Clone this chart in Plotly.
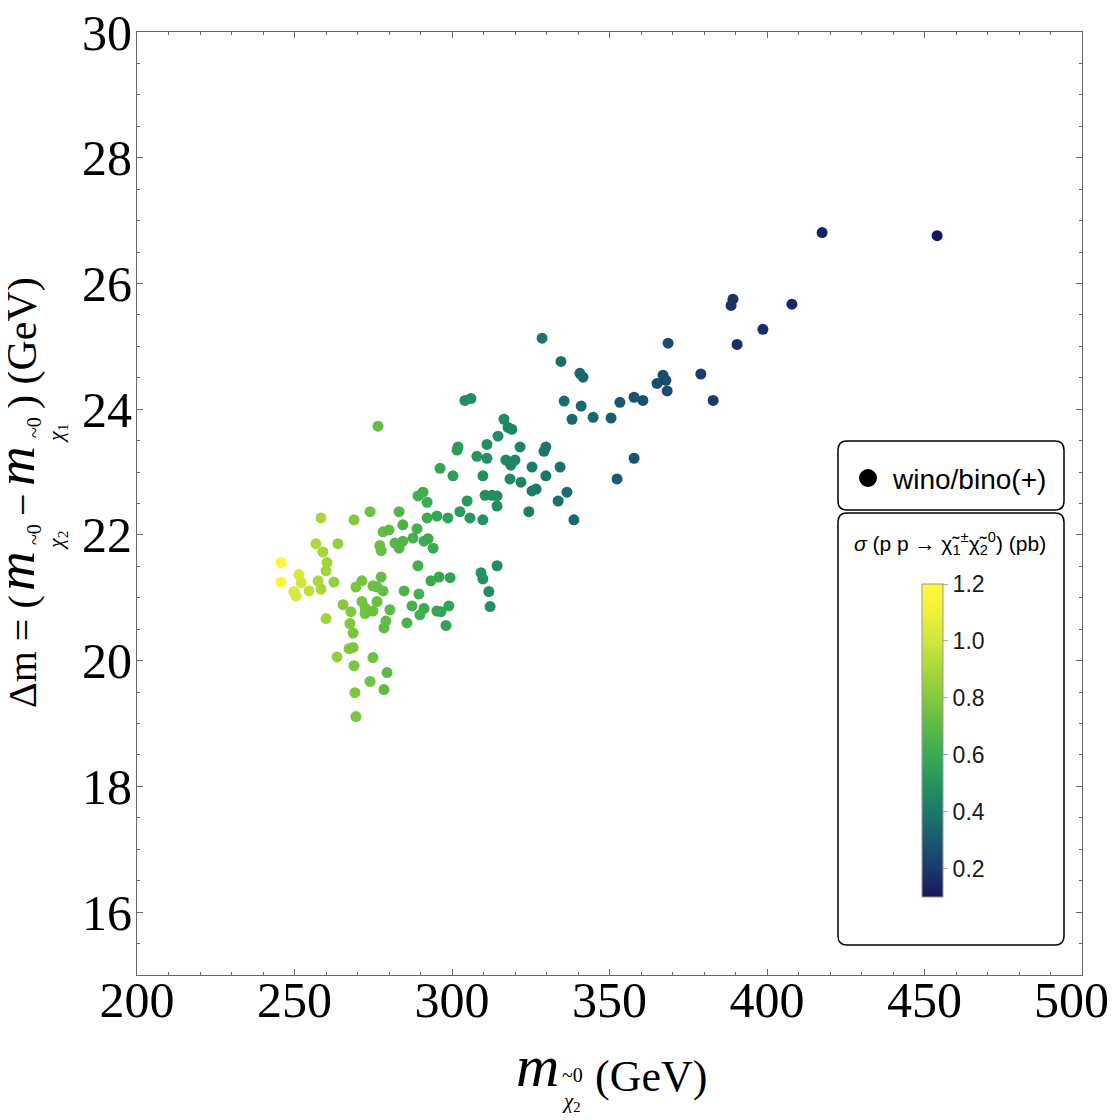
import plotly.graph_objects as go

# ---------------- data ----------------
m_chi2 = [
    454.0, 417.5, 389.2, 388.6, 407.9, 398.7, 390.5, 368.6, 379.0, 382.9,
    367.0, 367.9, 365.1, 368.3, 360.6, 357.8, 353.3, 350.5, 344.8, 338.1,
    340.6, 341.6, 341.0, 334.6, 335.6, 328.6, 357.8, 352.4, 338.7, 336.5,
    333.7, 334.3, 329.8, 329.2, 329.8, 325.4, 326.7, 325.4, 324.4, 321.6,
    320.0, 317.1, 318.7, 317.8, 319.0, 316.5, 318.4, 321.9, 314.6, 311.1,
    311.1, 307.9, 309.8, 310.5, 312.7, 314.3, 314.3, 309.8, 304.1, 306.0,
    301.6, 301.9, 296.2, 300.3, 304.8, 302.5, 305.7, 298.7, 295.2, 292.1,
    289.2, 290.8, 292.1, 283.2, 284.4, 288.9, 278.1, 280.0, 277.1, 277.5,
    281.9, 284.4, 283.2, 287.6, 291.1, 292.4, 294.0, 276.5, 274.0, 268.9,
    258.4, 256.8, 259.0, 263.8, 260.3, 260.0, 251.4, 252.1, 249.8, 250.5,
    254.6, 257.5, 258.4, 262.5, 269.5, 271.4, 274.9, 276.2, 278.1, 277.5,
    289.2, 293.3, 295.9, 299.4, 309.2, 309.8, 311.7, 312.1, 314.3, 284.8,
    289.5, 271.4, 272.4, 272.4, 276.2, 265.4, 267.9, 274.9, 280.3, 287.3,
    291.1, 295.2, 289.8, 299.0, 245.7, 245.7, 260.0, 279.0, 278.4, 267.6,
    268.6, 267.3, 268.6, 263.5, 268.9, 274.9, 279.4, 274.0, 278.4, 269.2,
    269.5, 285.7, 298.1, 296.5,
]
delta_m = [
    26.76, 26.81, 25.75, 25.65, 25.67, 25.27, 25.03, 25.05, 24.56, 24.14,
    24.54, 24.46, 24.41, 24.29, 24.14, 24.19, 24.11, 23.86, 23.87, 23.84,
    24.57, 24.51, 24.05, 24.76, 24.13, 25.13, 23.22, 22.89, 22.24, 22.68,
    22.54, 23.08, 23.40, 23.33, 22.94, 23.08, 22.73, 22.70, 22.37, 23.40,
    23.19, 23.19, 23.11, 23.71, 23.68, 23.84, 22.89, 22.84, 23.57, 23.44,
    23.22, 23.25, 22.94, 22.63, 22.63, 22.62, 22.46, 22.24, 24.14, 24.17,
    23.35, 23.40, 23.06, 22.94, 22.54, 22.37, 22.27, 22.27, 22.30, 22.27,
    22.62, 22.68, 22.52, 22.37, 22.16, 22.10, 22.05, 22.08, 21.83, 21.75,
    21.87, 21.90, 21.79, 21.95, 21.90, 21.94, 21.79, 23.73, 22.37, 22.24,
    22.27, 21.86, 21.73, 21.86, 21.56, 21.43, 21.37, 21.24, 21.10, 21.03,
    21.11, 21.27, 21.14, 21.25, 21.17, 21.27, 21.19, 21.17, 21.11, 21.33,
    21.51, 21.27, 21.33, 21.32, 21.40, 21.30, 21.10, 20.86, 21.51, 21.11,
    21.06, 20.94, 20.84, 20.75, 20.94, 20.89, 20.78, 20.79, 20.81, 20.87,
    20.83, 20.79, 20.73, 20.87, 21.56, 21.25, 20.67, 20.63, 20.52, 20.59,
    20.44, 20.19, 20.21, 20.06, 19.92, 20.05, 19.81, 19.67, 19.54, 19.49,
    19.11, 20.60, 20.56, 20.78,
]
sigma_pb = [
    0.10, 0.13, 0.18, 0.18, 0.15, 0.16, 0.17, 0.25, 0.21, 0.20,
    0.26, 0.25, 0.26, 0.25, 0.27, 0.28, 0.30, 0.31, 0.33, 0.35,
    0.34, 0.34, 0.34, 0.37, 0.36, 0.39, 0.28, 0.30, 0.35, 0.36,
    0.37, 0.37, 0.39, 0.39, 0.39, 0.41, 0.40, 0.41, 0.41, 0.43,
    0.44, 0.45, 0.44, 0.45, 0.44, 0.46, 0.45, 0.43, 0.47, 0.48,
    0.48, 0.50, 0.48, 0.48, 0.47, 0.47, 0.47, 0.49, 0.47, 0.47,
    0.54, 0.54, 0.57, 0.55, 0.52, 0.53, 0.51, 0.56, 0.58, 0.61,
    0.63, 0.62, 0.61, 0.67, 0.66, 0.63, 0.72, 0.70, 0.73, 0.72,
    0.68, 0.66, 0.67, 0.64, 0.61, 0.60, 0.59, 0.72, 0.74, 0.79,
    0.90, 0.92, 0.89, 0.84, 0.88, 0.88, 1.02, 1.00, 1.04, 1.02,
    0.95, 0.91, 0.90, 0.85, 0.78, 0.76, 0.74, 0.73, 0.72, 0.72,
    0.63, 0.60, 0.58, 0.56, 0.49, 0.49, 0.48, 0.48, 0.47, 0.66,
    0.63, 0.76, 0.75, 0.75, 0.73, 0.81, 0.79, 0.74, 0.70, 0.64,
    0.61, 0.58, 0.63, 0.56, 1.17, 1.16, 0.88, 0.71, 0.71, 0.79,
    0.78, 0.79, 0.78, 0.84, 0.78, 0.74, 0.70, 0.75, 0.71, 0.78,
    0.78, 0.65, 0.56, 0.57,
]

x_ticks = [200, 250, 300, 350, 400, 450, 500]
# the last label gets a small trailing space so it stays inside the page edge
x_tick_text = ["200", "250", "300", "350", "400", "450", "500\u00a0\u2006"]
y_ticks = [16, 18, 20, 22, 24, 26, 28, 30]
cbar_ticks = [0.2, 0.4, 0.6, 0.8, 1.0, 1.2]
legend_label = "wino/bino(+)"

# ---------------- geometry helpers (page pixel -> paper) ----------------
# the page body has an 8px margin, so the figure is drawn 8px in and 8px down
OFF = 8
FIG_W = 1120 - OFF
FIG_H = 1120 - OFF
L, R, T, B = 137, 1082, 32, 975          # plot area in page pixels
W, H = R - L, B - T


def X(px):
    return (px - L) / W


def Y(py):
    return (B - py) / H


def rrect(x0, y0, x1, y1, r):
    return (f"M {X(x0+r)},{Y(y0)} L {X(x1-r)},{Y(y0)} Q {X(x1)},{Y(y0)} {X(x1)},{Y(y0+r)} "
            f"L {X(x1)},{Y(y1-r)} Q {X(x1)},{Y(y1)} {X(x1-r)},{Y(y1)} "
            f"L {X(x0+r)},{Y(y1)} Q {X(x0)},{Y(y1)} {X(x0)},{Y(y1-r)} "
            f"L {X(x0)},{Y(y0+r)} Q {X(x0)},{Y(y0)} {X(x0+r)},{Y(y0)} Z")


cscale = [
    [0.000, "#1a1560"],
    [0.091, "#1b3a6c"],
    [0.182, "#1a5a6e"],
    [0.273, "#1a7a6a"],
    [0.364, "#25955e"],
    [0.455, "#3aaa52"],
    [0.545, "#5cba45"],
    [0.636, "#84c93e"],
    [0.727, "#a8d63b"],
    [0.818, "#d2e63c"],
    [0.909, "#f0f03a"],
    [1.000, "#fff83a"],
]

fig = go.Figure()
fig.add_trace(go.Scatter(
    x=m_chi2, y=delta_m, mode="markers", showlegend=False,
    marker=dict(
        size=11, color=sigma_pb, colorscale=cscale, cmin=0.1, cmax=1.2,
        line=dict(width=0),
        colorbar=dict(
            x=X(922), xanchor="left", xpad=0, ypad=0,
            y=Y(740.5), yanchor="middle",
            len=313, lenmode="pixels", thickness=21, thicknessmode="pixels",
            outlinewidth=1, outlinecolor="#999999",
            tickvals=cbar_ticks, ticktext=[f"{v:.1f}" for v in cbar_ticks],
            ticks="outside", ticklen=5, tickcolor="#aaaaaa",
            tickfont=dict(family="Liberation Sans", size=23, color="#1a1a1a"),
        ),
    ),
))

axis_common = dict(
    showline=True, linecolor="#666666", linewidth=1, mirror="ticks",
    ticks="inside", ticklen=6, tickcolor="#666666", tickwidth=1,
    showgrid=False, zeroline=False, ticklabeloverflow="allow",
    tickfont=dict(family="Liberation Serif", size=50, color="black"),
)
fig.update_xaxes(range=[200, 500], tickvals=x_ticks, ticktext=x_tick_text,
                 ticklabelstandoff=-19, **axis_common,
                 minor=dict(ticks="inside", ticklen=3, tickcolor="#666666", dtick=10, tick0=200))
fig.update_yaxes(range=[15, 30], tickvals=y_ticks, ticklabelstandoff=-6, **axis_common,
                 minor=dict(ticks="inside", ticklen=3, tickcolor="#666666", dtick=0.5, tick0=15))

shapes = [
    dict(type="path", xref="paper", yref="paper", path=rrect(838, 441, 1064, 510, 9),
         line=dict(color="black", width=1.5), fillcolor="rgba(0,0,0,0)"),
    dict(type="path", xref="paper", yref="paper", path=rrect(838, 513, 1064, 945, 9),
         line=dict(color="black", width=1.5), fillcolor="rgba(0,0,0,0)"),
    dict(type="circle", xref="paper", yref="paper", x0=X(859), x1=X(877), y0=Y(487), y1=Y(469),
         line=dict(width=0), fillcolor="black"),
]

serif = "Liberation Serif"
ann = []


def add(text, cx, cy, size, fam=serif, angle=0, color="black"):
    ann.append(dict(text=text, x=X(cx), y=Y(cy), xref="paper", yref="paper",
                    xanchor="center", yanchor="middle", showarrow=False, textangle=angle,
                    font=dict(family=fam, size=size, color=color)))


# x-axis title
add("<i>m</i>", 537, 1066, 60)
add("~0", 572, 1075, 20)
add("<i>χ</i><sub>2</sub>", 571, 1102, 21)
add("(GeV)", 651, 1076, 44)

# y-axis title (rotated)
add("Δm = (", 22, 652, 40, angle=-90)
add("<i>m</i>", 15, 571, 55, angle=-90)
add("~0", 34, 535, 20, angle=-90)
add("<i>χ</i><sub>2</sub>", 57, 541, 22, angle=-90)
add("−", 22, 505, 40, angle=-90)
add("<i>m</i>", 15, 466, 55, angle=-90)
add("~0", 34, 428, 20, angle=-90)
add("<i>χ</i><sub>1</sub>", 57, 434, 22, angle=-90)
add(") (GeV)", 22, 343, 42, angle=-90)

# legend text + colorbar title
add(legend_label, 969, 479, 28, fam="Liberation Sans")
add("<i>σ</i> (p p → χ̃<sub>1</sub><sup>±</sup>χ̃<sub>2</sub><sup>0</sup>) (pb)", 950, 543, 21,
    fam="Liberation Sans")

fig.update_layout(
    width=FIG_W, height=FIG_H,
    margin=dict(l=L - OFF, r=FIG_W - (R - OFF), t=T - OFF, b=FIG_H - (B - OFF), autoexpand=False),
    plot_bgcolor="white", paper_bgcolor="white",
    shapes=shapes, annotations=ann,
)

fig.write_html("out.html")
